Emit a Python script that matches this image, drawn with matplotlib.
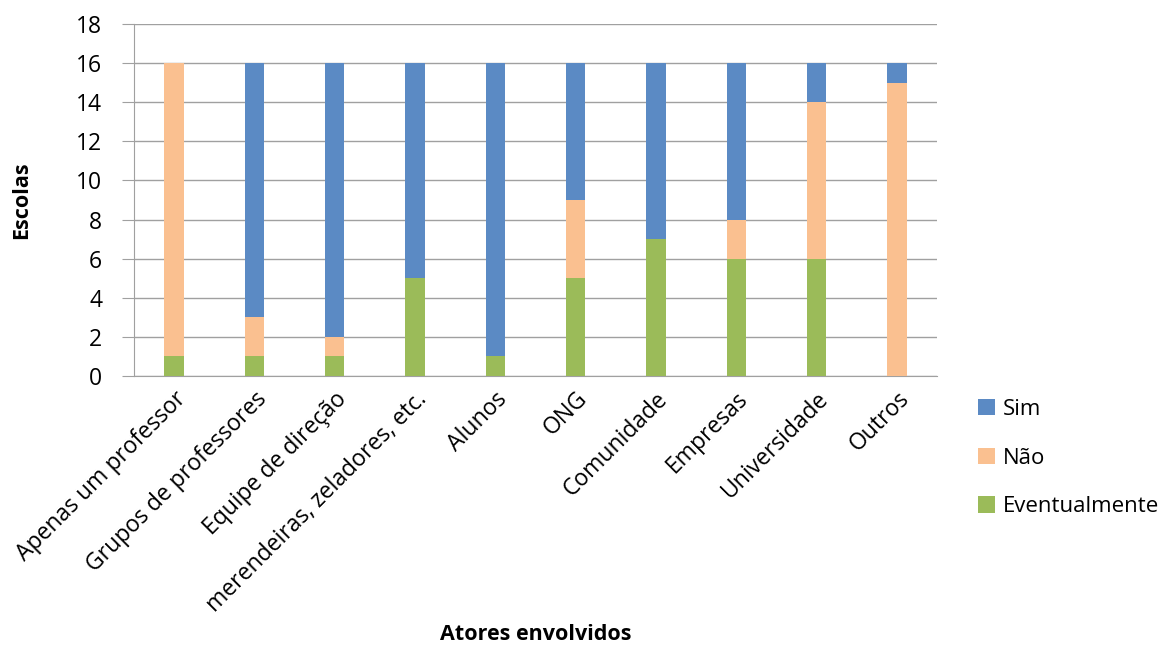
import numpy as np
import matplotlib.pyplot as plt

# Data
categories = ["Apenas um professor", "Grupos de professores", "Equipe de direção",
              "merendeiras, zeladores, etc.", "Alunos", "ONG", "Comunidade",
              "Empresas", "Universidade", "Outros"]
eventualmente = [1, 1, 1, 5, 1, 5, 7, 6, 6, 0]
nao = [15, 2, 1, 0, 0, 4, 0, 2, 8, 15]
sim = [0, 13, 14, 11, 15, 7, 9, 8, 2, 1]

plt.rcParams['font.family'] = ['Open Sans', 'DejaVu Sans']

fig = plt.figure(figsize=(11.67, 6.53), dpi=100)
ax = fig.add_axes([0.1148, 0.4242, 0.6882, 0.539])

x = np.arange(len(categories))
w = 0.24
ev = np.array(eventualmente)
na = np.array(nao)
si = np.array(sim)

ax.bar(x, ev, w, color='#9BBB59', label='Eventualmente', zorder=3)
ax.bar(x, na, w, bottom=ev, color='#FAC090', label='Não', zorder=3)
ax.bar(x, si, w, bottom=ev + na, color='#5B8AC4', label='Sim', zorder=3)

ax.set_xlim(-0.5, len(categories) - 0.5)
ax.set_ylim(0, 18)
ax.set_yticks(range(0, 19, 2))
ax.yaxis.grid(True, color='#A0A0A0', linewidth=1, zorder=0)

for s in ['top', 'right']:
    ax.spines[s].set_visible(False)
for s in ['left', 'bottom']:
    ax.spines[s].set_color('#A0A0A0')
ax.tick_params(axis='y', length=9, color='#A0A0A0', labelsize=16.5, pad=14)
ax.tick_params(axis='x', length=0, labelsize=16.5, pad=8)

ax.set_xticks(x)
ax.set_xticklabels(categories, rotation=45, ha='right', rotation_mode='anchor')

fig.text(22 / 1167, 0.694, 'Escolas', fontsize=15.5, fontweight='bold',
         rotation=90, ha='center', va='center')
fig.text(0.459, 0.012, 'Atores envolvidos', fontsize=15.5, fontweight='bold',
         ha='center', va='bottom')

handles, labels = ax.get_legend_handles_labels()
fig.legend(handles[::-1], labels[::-1], loc='center left',
           bbox_to_anchor=(0.838, 1 - 458 / 653),
           frameon=False, fontsize=16, handlelength=0.75, handleheight=0.75,
           labelspacing=1.25, handletextpad=0.35, borderaxespad=0, borderpad=0)

fig.savefig('out.png', dpi=100)
